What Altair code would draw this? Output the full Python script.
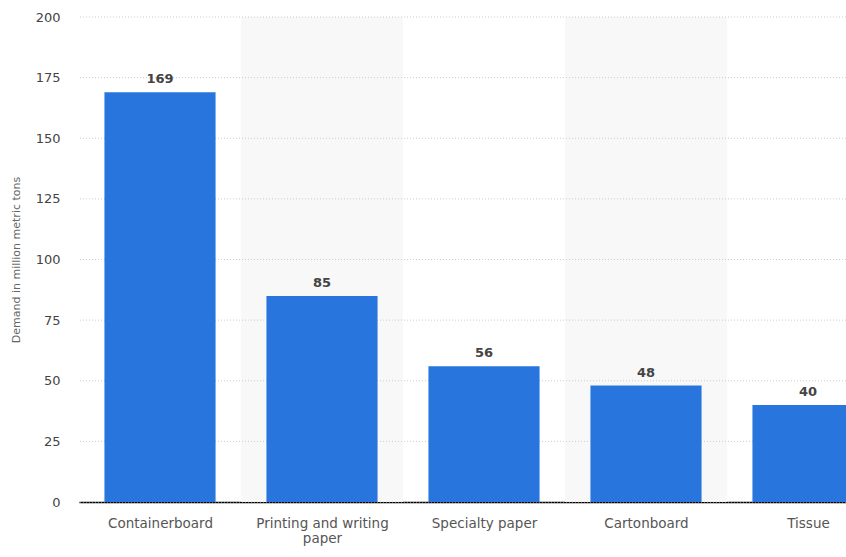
import altair as alt
import pandas as pd

categories = ["Containerboard", "Printing and writing paper", "Specialty paper", "Cartonboard", "Tissue"]
values = [169, 85, 56, 48, 40]
positions = [1, 2, 3, 4, 5]
shaded = [False, True, False, True, False]
y_ticks = [0, 25, 50, 75, 100, 125, 150, 175, 200]

df = pd.DataFrame({"cat": categories, "value": values, "pos": positions, "shaded": shaded})

W, H = 767, 485
x_scale = alt.Scale(domain=[0.5, 0.5 + W / 162.0], nice=False, zero=False)
y_scale = alt.Scale(domain=[0, 200], nice=False)

label_expr = (
    "datum.value == 1 ? 'Containerboard' : datum.value == 2 ? ['Printing and writing', 'paper'] : "
    "datum.value == 3 ? 'Specialty paper' : datum.value == 4 ? 'Cartonboard' : 'Tissue'"
)

x_axis = alt.Axis(
    title=None, values=positions, labelExpr=label_expr, ticks=False, grid=False,
    domainColor="#000000", domainWidth=1.5, labelPadding=14, labelFontSize=13.5,
    labelColor="#555555", labelLineHeight=15, labelBaseline="top",
)

base = alt.Chart(df)

bands = base.transform_filter("datum.shaded").transform_calculate(
    x0="datum.pos - 0.5", x1="datum.pos + 0.5"
).mark_rect(color="#f8f8f8", clip=True).encode(
    x=alt.X("x0:Q", scale=x_scale, axis=x_axis),
    x2="x1:Q",
    y=alt.value(-2),
    y2=alt.value(H),
)

grid = alt.Chart(pd.DataFrame({"t": y_ticks})).mark_rule(
    color="#cccccc", strokeDash=[1, 2], strokeWidth=1
).encode(
    y=alt.Y("t:Q", scale=y_scale, axis=alt.Axis(
        title="Demand in million metric tons", values=y_ticks, domain=False, ticks=False,
        grid=False, labelPadding=19, labelFontSize=13, labelColor="#444444",
        titleFontSize=11, titleColor="#666666", titleFontWeight="normal", titleX=-58,
    )),
)

bars = base.transform_calculate(
    x0="datum.pos - 0.343", x1="datum.pos + 0.343"
).mark_rect(color="#2876dd", clip=True).encode(
    x=alt.X("x0:Q", scale=x_scale),
    x2="x1:Q",
    y=alt.Y("value:Q", scale=y_scale),
    y2=alt.datum(0),
)

labels = base.mark_text(
    fontWeight="bold", fontSize=13, color="#444444", dy=-6, baseline="bottom", clip=True
).encode(
    x=alt.X("pos:Q", scale=x_scale),
    y=alt.Y("value:Q", scale=y_scale),
    text=alt.Text("value:Q"),
)

chart = alt.layer(bands, grid, bars, labels).properties(
    width=W, height=H,
    autosize=alt.AutoSizeParams(type="none"),
    padding={"left": 79, "top": 17, "right": 0, "bottom": 55},
).configure(font="DejaVu Sans").configure_view(stroke=None)

chart.save("out.html", embed_options={"renderer": "svg", "actions": False})
